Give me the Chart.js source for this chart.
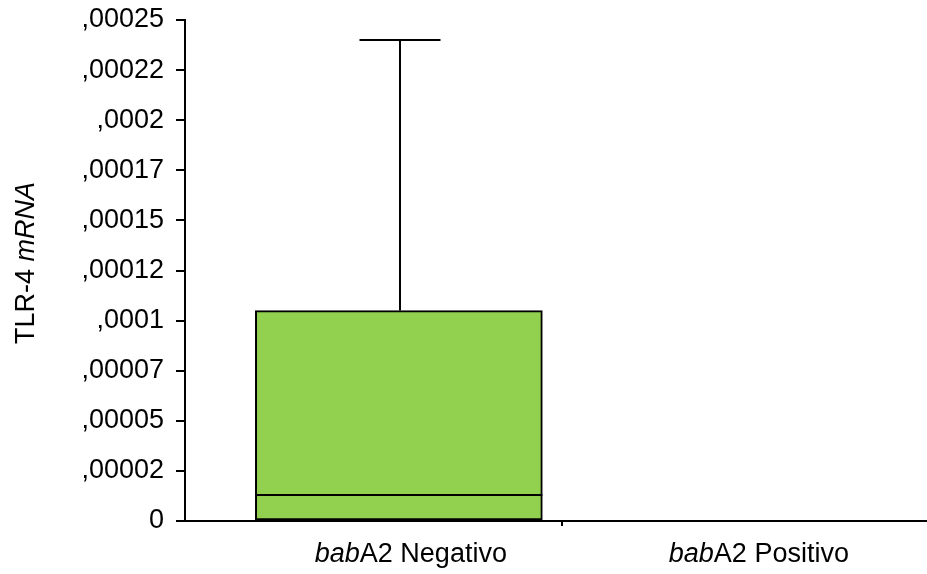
<!DOCTYPE html>
<html>
<head>
<meta charset="utf-8">
<title>TLR-4 mRNA por babA2</title>
<script src="https://cdn.jsdelivr.net/npm/chart.js@4/dist/chart.umd.min.js"></script>
<style>
  html, body { margin: 0; padding: 0; background: #ffffff; overflow: hidden; }
  canvas { display: block; }
</style>
</head>
<body>
<canvas id="box" width="927" height="574"></canvas>
<script>
// Category labels: italic gene name followed by the group in regular type
const categoryGene = ['bab', 'bab'];
const categoryGroup = ['A2 Negativo', 'A2 Positivo'];
const categoryPos = [0, 1];

// Box plot summary per group
const whiskerMin = [0, 0];
const quartile1 = [0, 0];
const medianVal = [0.000013, 0];
const quartile3 = [0.000105, 0];
const whiskerMax = [0.00024, 0];

// Y axis tick labels (SPSS style, leading zero dropped)
const yTickLabels = ['0', ',00002', ',00005', ',00007', ',0001', ',00012',
                     ',00015', ',00017', ',0002', ',00022', ',00025'];
const Y_STEP = 0.000025;
const Y_MAX = 0.00025;

const FONT = "'Liberation Sans', Arial, sans-serif";
const INK = '#000000';
const BOX_FILL = '#92d050';
const BOX_WIDTH = 287;
const CAP_WIDTH = 81;
const CATEGORY_SPLIT = 0.453;

// Whiskers, caps and median lines drawn through the chart scales
const boxExtras = {
  id: 'boxExtras',
  afterDatasetsDraw(chart) {
    const { ctx, scales: { x, y } } = chart;
    const bars = chart.getDatasetMeta(0).data;
    ctx.save();
    ctx.strokeStyle = INK;
    ctx.lineWidth = 2;
    ctx.lineCap = 'butt';
    categoryPos.forEach((pos, i) => {
      const bar = bars[i];
      const cx = Math.round(x.getPixelForValue(pos)) + 1;
      const yMax = Math.round(y.getPixelForValue(whiskerMax[i]));
      const yQ3 = y.getPixelForValue(quartile3[i]);
      const yQ1 = y.getPixelForValue(quartile1[i]);
      const yMin = Math.round(y.getPixelForValue(whiskerMin[i]));
      const yMed = Math.round(y.getPixelForValue(medianVal[i]));
      ctx.beginPath();
      if (whiskerMax[i] > quartile3[i]) {
        ctx.moveTo(cx, yQ3);
        ctx.lineTo(cx, yMax);
        ctx.moveTo(cx - CAP_WIDTH / 2, yMax);
        ctx.lineTo(cx + CAP_WIDTH / 2, yMax);
      }
      if (whiskerMin[i] < quartile1[i]) {
        ctx.moveTo(cx, yQ1);
        ctx.lineTo(cx, yMin);
        ctx.moveTo(cx - CAP_WIDTH / 2, yMin);
        ctx.lineTo(cx + CAP_WIDTH / 2, yMin);
      }
      if (quartile3[i] > quartile1[i]) {
        ctx.moveTo(bar.x - bar.width / 2, yMed);
        ctx.lineTo(bar.x + bar.width / 2, yMed);
      }
      ctx.stroke();
    });
    ctx.restore();
  }
};

// Mixed italic/regular category labels and y-axis title
const richLabels = {
  id: 'richLabels',
  afterDraw(chart) {
    const { ctx, scales: { x }, chartArea } = chart;
    const italic = 'italic 27px ' + FONT;
    const regular = '27px ' + FONT;
    ctx.save();
    ctx.fillStyle = INK;
    ctx.textBaseline = 'alphabetic';
    ctx.textAlign = 'left';
    categoryPos.forEach((pos, i) => {
      ctx.font = italic;
      const w1 = ctx.measureText(categoryGene[i]).width;
      ctx.font = regular;
      const w2 = ctx.measureText(categoryGroup[i]).width;
      const nudge = i === 0 ? 12 : 0;
      const cx = x.getPixelForValue(pos) + nudge;
      const left = cx - (w1 + w2) / 2;
      const base = chartArea.bottom + 41;
      ctx.font = italic;
      ctx.fillText(categoryGene[i], left, base);
      ctx.font = regular;
      ctx.fillText(categoryGroup[i], left + w1, base);
    });

    // Rotated y-axis title: "TLR-4 " regular + "mRNA" italic
    const t1 = 'TLR-4 ';
    const t2 = 'mRNA';
    ctx.font = regular;
    const a = ctx.measureText(t1).width;
    ctx.font = italic;
    const b = ctx.measureText(t2).width;
    ctx.translate(34, 263);
    ctx.rotate(-Math.PI / 2);
    const start = -(a + b) / 2;
    ctx.font = regular;
    ctx.fillText(t1, start, 0);
    ctx.font = italic;
    ctx.fillText(t2, start + a, 0);
    ctx.restore();
  }
};

new Chart(document.getElementById('box'), {
  type: 'bar',
  data: {
    datasets: [{
      data: categoryPos.map((p, i) => ({ x: p, y: [quartile1[i], quartile3[i]] })),
      backgroundColor: BOX_FILL,
      borderColor: INK,
      borderWidth: 2,
      borderSkipped: false,
      barThickness: BOX_WIDTH
    }]
  },
  options: {
    responsive: false,
    animation: false,
    devicePixelRatio: 1,
    layout: { padding: { top: 20, left: 0, right: 0, bottom: 0 } },
    plugins: { legend: { display: false }, tooltip: { enabled: false } },
    scales: {
      x: {
        type: 'linear',
        offset: false,
        min: -0.594,
        max: 1.467,
        afterBuildTicks: (s) => { s.ticks = [{ value: CATEGORY_SPLIT }]; },
        afterFit: (s) => { s.height = 53; s.paddingLeft = 0; s.paddingRight = 0; },
        ticks: { callback: () => '', font: { family: FONT, size: 27 } },
        grid: { offset: false, drawOnChartArea: false, color: INK, lineWidth: 2, tickLength: 5 },
        border: { display: true, color: INK, width: 2 }
      },
      y: {
        min: 0,
        max: Y_MAX,
        afterFit: (s) => { s.width = 185; s.paddingTop = 0; s.paddingBottom = 0; },
        ticks: {
          stepSize: Y_STEP,
          padding: 12,
          color: INK,
          font: { family: FONT, size: 27 },
          callback: (v) => yTickLabels[Math.round(v / Y_STEP)]
        },
        grid: { drawOnChartArea: false, color: INK, lineWidth: 2, tickLength: 9 },
        border: { display: true, color: INK, width: 2 }
      }
    }
  },
  plugins: [boxExtras, richLabels]
});
</script>
</body>
</html>
